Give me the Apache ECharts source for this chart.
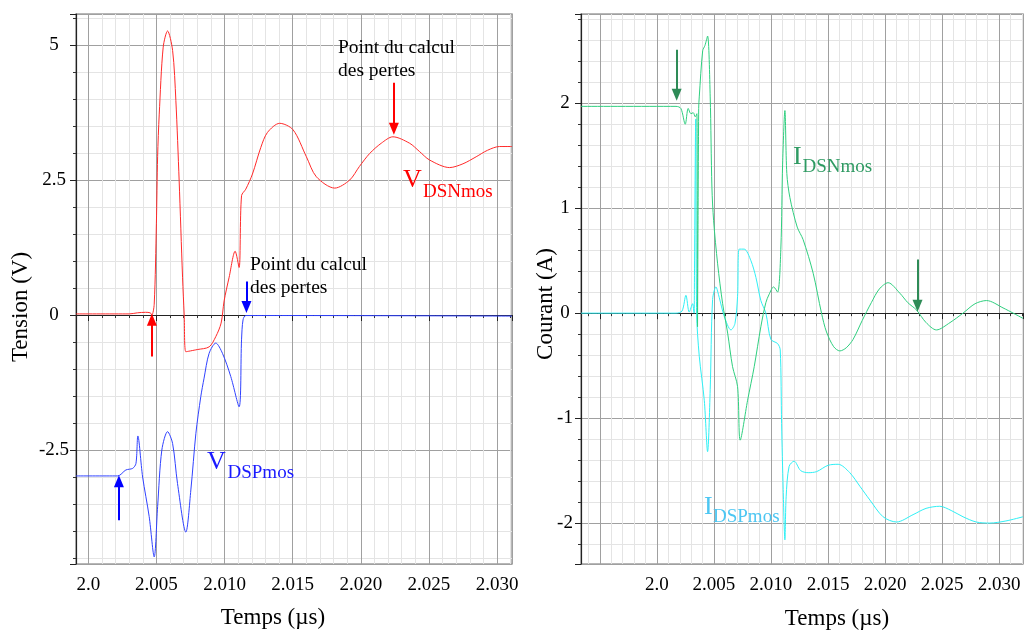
<!DOCTYPE html>
<html>
<head>
<meta charset="utf-8">
<script src="https://cdn.jsdelivr.net/npm/echarts@6/dist/echarts.min.js"></script>
<style>html,body{margin:0;padding:0;background:#fff}#c{width:1026px;height:630px}</style>
</head>
<body>
<div id="c"></div>
<script>
// ---- Left panel: voltages (time in µs, value in V) ----
const vdsnT = [1.9991, 2.0030, 2.0036, 2.0042, 2.00455, 2.00467, 2.00484, 2.00500, 2.00509, 2.00521, 2.00550, 2.00582, 2.00619, 2.00643, 2.00667, 2.00692, 2.00704, 2.00716, 2.00800, 2.00887, 2.00936, 2.00975, 2.00997, 2.01034, 2.01078, 2.01107, 2.01125, 2.01156, 2.01205, 2.01266, 2.01315, 2.01405, 2.01503, 2.01601, 2.01674, 2.01809, 2.01919, 2.01990, 2.02065, 2.02150, 2.02236, 2.02359, 2.02430, 2.02505, 2.02652, 2.02750, 2.02847, 2.02930, 2.03018, 2.03110];
const vdsnV = [0.02, 0.02, 0.04, 0.05, 0.04, 0.00, 0.20, 1.69, 2.93, 3.72, 4.96, 5.26, 4.90, 3.97, 2.49, 0.70, 0.00, -0.68, -0.64, -0.59, -0.40, -0.15, 0.26, 0.70, 1.18, 0.88, 2.21, 2.33, 2.61, 3.10, 3.38, 3.55, 3.43, 2.93, 2.56, 2.35, 2.50, 2.75, 2.99, 3.18, 3.30, 3.18, 3.03, 2.87, 2.73, 2.80, 2.93, 3.05, 3.12, 3.12];
const vdspT = [1.9991, 2.00216, 2.00276, 2.00326, 2.00350, 2.00364, 2.00399, 2.00447, 2.00484, 2.00509, 2.00540, 2.00582, 2.00619, 2.00655, 2.00716, 2.00753, 2.00790, 2.00826, 2.00850, 2.00887, 2.00936, 2.00985, 2.01046, 2.01107, 2.01125, 2.01136, 2.01156, 2.01500, 2.03110];
const vdspV = [-2.98, -2.98, -2.87, -2.84, -2.75, -2.24, -3.00, -3.73, -4.48, -3.55, -2.50, -2.16, -2.38, -3.12, -4.02, -3.24, -2.19, -1.51, -1.17, -0.71, -0.52, -0.71, -1.14, -1.70, -0.46, -0.09, -0.01, -0.01, -0.02];

// ---- Right panel: currents (time in µs, value in A) ----
const idsnT = [1.99334, 2.00167, 2.00210, 2.00248, 2.00274, 2.00298, 2.00318, 2.00336, 2.00350, 2.00356, 2.00362, 2.00366, 2.00371, 2.00401, 2.00421, 2.00444, 2.00467, 2.00482, 2.00497, 2.00532, 2.00576, 2.00620, 2.00663, 2.00707, 2.00730, 2.00795, 2.00853, 2.00911, 2.00955, 2.00984, 2.01023, 2.01058, 2.01087, 2.01102, 2.01122, 2.01139, 2.01166, 2.01230, 2.01282, 2.01370, 2.01443, 2.01487, 2.01550, 2.01604, 2.01660, 2.01720, 2.01800, 2.01880, 2.01950, 2.02027, 2.02130, 2.02200, 2.02276, 2.02360, 2.02451, 2.02570, 2.02684, 2.02790, 2.02890, 2.03035, 2.03210];
const idsnI = [1.97, 1.97, 1.95, 1.80, 1.95, 1.90, 1.91, 1.87, 1.90, -0.13, -0.13, 1.95, 2.06, 2.50, 2.55, 2.64, 2.06, 1.20, 0.88, 0.47, 0.09, -0.19, -0.51, -0.70, -1.21, -0.83, -0.51, -0.13, 0.10, 0.18, 0.25, 0.20, 0.63, 1.42, 1.93, 1.33, 1.10, 0.82, 0.70, 0.38, 0.00, -0.18, -0.32, -0.36, -0.33, -0.25, -0.07, 0.10, 0.23, 0.29, 0.19, 0.10, 0.03, -0.09, -0.16, -0.09, 0.00, 0.09, 0.12, 0.05, -0.05];
const idspT = [1.99334, 2.00167, 2.00220, 2.00254, 2.00283, 2.00313, 2.00327, 2.00333, 2.00340, 2.00348, 2.00371, 2.00415, 2.00444, 2.00467, 2.00488, 2.00517, 2.00546, 2.00590, 2.00649, 2.00684, 2.00707, 2.00721, 2.00765, 2.00824, 2.00868, 2.00911, 2.00955, 2.00999, 2.01058, 2.01081, 2.01093, 2.01107, 2.01122, 2.01133, 2.01159, 2.01203, 2.01260, 2.01326, 2.01400, 2.01500, 2.01589, 2.01691, 2.01780, 2.01867, 2.01983, 2.02101, 2.02246, 2.02360, 2.02480, 2.02580, 2.02684, 2.02800, 2.02918, 2.03060, 2.03210];
const idspI = [0.00, 0.00, 0.02, 0.17, 0.01, 0.09, 0.00, 0.00, 1.85, 0.00, -0.41, -0.83, -1.32, -0.73, 0.13, 0.25, 0.15, -0.03, -0.16, -0.10, 0.16, 0.61, 0.61, 0.50, 0.34, 0.12, 0.00, -0.25, -0.29, -0.35, -1.05, -1.68, -2.16, -1.75, -1.46, -1.41, -1.50, -1.52, -1.51, -1.45, -1.44, -1.52, -1.65, -1.78, -1.94, -1.99, -1.92, -1.86, -1.84, -1.88, -1.94, -1.99, -2.00, -1.98, -1.94];

// Annotation arrows: [time, tail value, head value]
const leftArrows = [
  {t: 2.02243, from: 4.30, to: 3.45, color: '#ff0000'},
  {t: 2.01161, from: 0.62, to: 0.15, color: '#0000ff'},
  {t: 2.00467, from: -0.77, to: -0.09, color: '#ff0000'},
  {t: 2.00225, from: -3.80, to: -3.08, color: '#0000ff'}
];
const rightArrows = [
  {t: 2.00173, from: 2.51, to: 2.08, color: '#2e8b57'},
  {t: 2.02285, from: 0.51, to: 0.07, color: '#2e8b57'}
];

// Axis ranges and tick steps
const leftX = {min: 1.9991, max: 2.0311, major: 0.005, minor: 0.001};
const leftY = {min: -4.611, max: 5.574, major: 2.5, minor: 0.5};
const rightX = {min: 1.99334, max: 2.0321, major: 0.005, minor: 0.001};
const rightY = {min: -2.39, max: 2.85, major: 1, minor: 0.2};

const FONT = '"Liberation Serif", "DejaVu Serif", serif';
const pairs = (t, v) => t.map((x, i) => [x, v[i]]);

function fmtX(v) {
  const k = Math.round(v / 0.005);
  if (Math.abs(v - k * 0.005) > 1e-7 || v < 1.9995) return '';
  return k === 400 ? '2.0' : (k * 0.005).toFixed(3);
}
function fmtStep(step) {
  return function (v) {
    const k = Math.round(v / step);
    if (Math.abs(v - k * step) > 1e-6) return '';
    return String(Math.round(k * step * 10) / 10);
  };
}

function minorAxis(grid, r, pos) {
  return {
    type: 'value', gridIndex: grid, position: pos, min: r.min, max: r.max,
    minInterval: r.minor, maxInterval: r.minor, splitNumber: 40,
    axisLine: {show: false},
    axisTick: {show: true, length: 3, lineStyle: {color: '#333'}},
    axisLabel: {show: false},
    splitLine: {show: true, lineStyle: {color: '#e4e4e4', width: 1}}
  };
}
function majorAxis(grid, r, pos, fmt, align, margin) {
  return {
    type: 'value', gridIndex: grid, position: pos, min: r.min, max: r.max,
    minInterval: r.major, maxInterval: r.major, splitNumber: 6,
    axisLine: {show: true, lineStyle: {color: '#222', width: 1.2}},
    axisTick: {show: true, length: 6, lineStyle: {color: '#222'}},
    axisLabel: {show: true, formatter: fmt, fontFamily: FONT, fontSize: 19, color: '#000',
      margin: margin, align: align, showMinLabel: true, showMaxLabel: true, hideOverlap: false},
    splitLine: {show: true, lineStyle: {color: '#a0a0a0', width: 1}}
  };
}

function arrowLine(arrs) {
  return {
    silent: true, symbol: ['none', 'triangle'], symbolSize: [10, 12],
    label: {show: false}, emphasis: {disabled: true}, animation: false,
    data: arrs.map(a => [
      {coord: [a.t, a.from], lineStyle: {color: a.color, width: 2, type: 'solid'}, itemStyle: {color: a.color}},
      {coord: [a.t, a.to]}
    ])
  };
}

function lineSeries(name, xi, yi, data, color, extra) {
  return Object.assign({
    name: name, type: 'line', xAxisIndex: xi, yAxisIndex: yi, data: data,
    showSymbol: false, symbol: 'none', smooth: 0.3,
    lineStyle: {color: color, width: 1}, itemStyle: {color: color},
    animation: false, silent: true, clip: true, z: 3
  }, extra || {});
}

function txt(x, y, s, size, color, opts) {
  opts = opts || {};
  return {
    type: 'text', x: x, y: y, silent: true, rotation: opts.rotation || 0, z: 10,
    style: {text: s, font: size + 'px ' + FONT, fill: color, stroke: null, lineWidth: 0,
      align: opts.align || 'left', verticalAlign: 'middle'}
  };
}

const chart = echarts.init(document.getElementById('c'), null, {renderer: 'canvas'});
chart.setOption({
  animation: false,
  backgroundColor: '#fff',
  grid: [
    {left: 76, top: 14, width: 436, height: 550, show: true, borderColor: '#a0a0a0', borderWidth: 1.5, backgroundColor: '#fff'},
    {left: 581, top: 14, width: 442, height: 550, show: true, borderColor: '#a0a0a0', borderWidth: 1.5, backgroundColor: '#fff'}
  ],
  xAxis: [
    minorAxis(0, leftX, 'bottom'),
    majorAxis(0, leftX, 'bottom', fmtX, 'center', 12),
    minorAxis(1, rightX, 'bottom'),
    majorAxis(1, rightX, 'bottom', fmtX, 'center', 12)
  ],
  yAxis: [
    minorAxis(0, leftY, 'left'),
    majorAxis(0, leftY, 'left', fmtStep(2.5), 'center', 22),
    minorAxis(1, rightY, 'left'),
    majorAxis(1, rightY, 'left', fmtStep(1), 'center', 16)
  ],
  series: [
    lineSeries('VDSNmos', 1, 1, pairs(vdsnT, vdsnV), '#ff2a2a', {markLine: arrowLine(leftArrows)}),
    lineSeries('VDSPmos', 1, 1, pairs(vdspT, vdspV), '#3042ff'),
    lineSeries('IDSPmos', 3, 3, pairs(idspT, idspI), '#2ff0f5'),
    lineSeries('IDSNmos', 3, 3, pairs(idsnT, idsnI), '#2fcf7f', {markLine: arrowLine(rightArrows)})
  ],
  graphic: [
    txt(338, 48, 'Point du calcul', 19.5, '#000'),
    txt(338, 71, 'des pertes', 19.5, '#000'),
    txt(250, 265, 'Point du calcul', 19.5, '#000'),
    txt(250, 288, 'des pertes', 19.5, '#000'),
    txt(403, 180, 'V', 26, '#ff0000'),
    txt(423, 192, 'DSNmos', 19, '#ff0000'),
    txt(207, 462, 'V', 26, '#1a1aff'),
    txt(227.5, 473.5, 'DSPmos', 19, '#1a1aff'),
    txt(793, 157.5, 'I', 26, '#2e9a62'),
    txt(802.5, 167, 'DSNmos', 19, '#2e9a62'),
    txt(704, 507.5, 'I', 26, '#4cc6f2'),
    txt(713, 517, 'DSPmos', 19, '#4cc6f2'),
    txt(273, 618, 'Temps (µs)', 23, '#000', {align: 'center'}),
    txt(837, 619, 'Temps (µs)', 23, '#000', {align: 'center'}),
    txt(21, 307, 'Tension (V)', 23, '#000', {align: 'center', rotation: Math.PI / 2}),
    txt(546, 304, 'Courant (A)', 23, '#000', {align: 'center', rotation: Math.PI / 2})
  ]
});
</script>
</body>
</html>
